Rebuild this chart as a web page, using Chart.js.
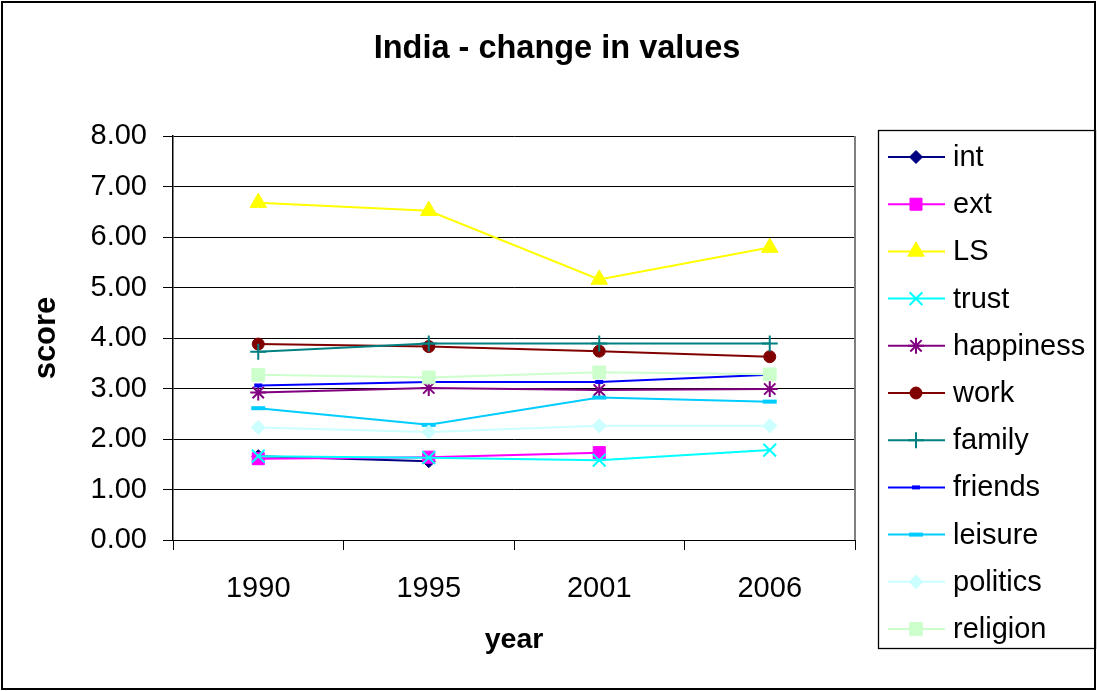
<!DOCTYPE html>
<html>
<head>
<meta charset="utf-8">
<script src="https://cdn.jsdelivr.net/npm/chart.js@4/dist/chart.umd.min.js"></script>
<style>
  html, body { margin: 0; padding: 0; background: #fff; }
  #wrap { width: 1097px; height: 691px; }
</style>
</head>
<body>
<div id="wrap"><canvas id="c" width="1097" height="691"></canvas></div>
<script>
// Survey years on the category axis
const years = ['1990', '1995', '2001', '2006'];

// Mean scores per value dimension
const intScores       = [1.66, 1.56, null, null];
const extScores       = [1.61, 1.64, 1.73, null];
const lsScores        = [6.68, 6.52, 5.16, 5.79];
const trustScores     = [1.66, 1.63, 1.58, 1.78];
const happinessScores = [2.92, 3.01, 2.97, 2.99];
const workScores      = [3.88, 3.83, 3.74, 3.63];
const familyScores    = [3.73, 3.89, 3.89, 3.89];
const friendsScores   = [3.06, 3.13, 3.13, 3.27];
const leisureScores   = [2.61, 2.28, 2.82, 2.74];
const politicsScores  = [2.23, 2.14, 2.26, 2.26];
const religionScores  = [3.27, 3.22, 3.32, 3.28];

// Score axis ticks
const scoreTicks = [0, 1, 2, 3, 4, 5, 6, 7, 8];

const TITLE = 'India - change in values';
const FONT = "'Liberation Sans', Arial, sans-serif";

function series(label, data, color, style, radius, opts) {
  opts = opts || {};
  return {
    label: label,
    data: data,
    borderColor: color,
    backgroundColor: color,
    borderWidth: 2,
    pointStyle: style,
    pointRadius: radius,
    pointHoverRadius: radius,
    pointBackgroundColor: opts.fill || color,
    pointBorderColor: opts.stroke || color,
    pointBorderWidth: opts.pbw || 1,
    tension: 0,
    spanGaps: false
  };
}

const datasets = [
  series('int', intScores, '#000080', 'rectRot', 6.5),
  series('ext', extScores, '#FF00FF', 'rect', 8.5),
  series('LS', lsScores, '#FFFF00', 'triangle', 9.5),
  series('trust', trustScores, '#00FFFF', 'crossRot', 9, { pbw: 2 }),
  series('happiness', happinessScores, '#800080', 'star', 8, { pbw: 2 }),
  series('work', workScores, '#800000', 'circle', 6),
  series('family', familyScores, '#008080', 'cross', 8, { pbw: 2 }),
  series('friends', friendsScores, '#0000FF', 'line', 4, { pbw: 4 }),
  series('leisure', leisureScores, '#00CCFF', 'line', 7, { pbw: 4 }),
  series('politics', politicsScores, '#CCFFFF', 'rectRot', 7),
  series('religion', religionScores, '#CCFFCC', 'rect', 9)
];
// later series sit on top of earlier ones
datasets.forEach((d, i) => { d.order = datasets.length - i; });

// white page, title, outer frame and the grey right edge of the plot area
const framePlugin = {
  id: 'frame',
  beforeDraw(chart) {
    const ctx = chart.ctx;
    ctx.save();
    ctx.fillStyle = '#fff';
    ctx.fillRect(0, 0, chart.width, chart.height);
    ctx.restore();
  },
  afterDraw(chart) {
    const ctx = chart.ctx;
    const a = chart.chartArea;
    ctx.save();
    ctx.fillStyle = '#000';
    ctx.font = 'bold 32.5px ' + FONT;
    ctx.textAlign = 'center';
    ctx.textBaseline = 'middle';
    ctx.fillText(TITLE, 557, 49);

    ctx.strokeStyle = '#808080';
    ctx.lineWidth = 2;
    ctx.beginPath();
    ctx.moveTo(a.right, a.top);
    ctx.lineTo(a.right, a.bottom);
    ctx.stroke();
    ctx.strokeStyle = '#000';
    ctx.lineWidth = 2;
    ctx.strokeRect(2, 2, chart.width - 4, chart.height - 4);
    ctx.restore();
  }
};

// boxed legend at the right, each entry with a line sample and its marker
const boxLegend = {
  id: 'boxLegend',
  afterDraw(chart) {
    const ctx = chart.ctx;
    const box = { x: 878.5, y: 130.5, w: 217, h: 518 };
    const first = 157, step = 47.2;
    ctx.save();
    ctx.strokeStyle = '#000';
    ctx.lineWidth = 1.3;
    ctx.strokeRect(box.x, box.y, box.w, box.h);
    chart.data.datasets.forEach((ds, i) => {
      const y = first + i * step;
      ctx.strokeStyle = ds.borderColor;
      ctx.lineWidth = 2;
      ctx.beginPath();
      ctx.moveTo(888, y);
      ctx.lineTo(945, y);
      ctx.stroke();
      ctx.fillStyle = ds.pointBackgroundColor;
      ctx.strokeStyle = ds.pointBorderColor;
      ctx.lineWidth = ds.pointBorderWidth;
      Chart.helpers.drawPoint(ctx, {
        pointStyle: ds.pointStyle,
        radius: ds.pointRadius,
        rotation: 0,
        borderWidth: ds.pointBorderWidth
      }, 916, y);
      ctx.fillStyle = '#000';
      ctx.font = '29px ' + FONT;
      ctx.textBaseline = 'middle';
      ctx.textAlign = 'left';
      ctx.fillText(ds.label, 953, y + 1);
    });
    ctx.restore();
  }
};

new Chart(document.getElementById('c'), {
  type: 'line',
  data: { labels: years, datasets: datasets },
  plugins: [framePlugin, boxLegend],
  options: {
    responsive: false,
    animation: false,
    devicePixelRatio: 1,
    layout: { padding: { left: 0, top: 136, right: 242, bottom: 0 } },
    plugins: {
      legend: { display: false },
      tooltip: { enabled: false },
      title: { display: false }
    },
    scales: {
      x: {
        type: 'category',
        offset: true,
        grid: {
          offset: true,
          drawOnChartArea: false,
          drawTicks: true,
          tickLength: 10,
          color: '#000',
          lineWidth: 1
        },
        border: { display: true, color: '#000', width: 1 },
        ticks: {
          color: '#000',
          padding: 22,
          font: { family: FONT, size: 29 }
        },
        title: {
          display: true,
          text: 'year',
          color: '#000',
          font: { family: FONT, size: 28.5, weight: 'bold', lineHeight: 1.2 },
          padding: { top: 0, bottom: 34 }
        },
        afterFit(scale) { scale.height = 151; }
      },
      y: {
        min: 0,
        max: 8,
        afterBuildTicks(scale) { scale.ticks = scoreTicks.map(v => ({ value: v })); },
        grid: {
          color: '#000',
          lineWidth: 1,
          drawTicks: true,
          tickLength: 10
        },
        border: { display: true, color: '#000', width: 1.5 },
        ticks: {
          color: '#000',
          padding: 16,
          font: { family: FONT, size: 29 },
          callback: v => Number(v).toFixed(2)
        },
        title: {
          display: true,
          text: 'score',
          color: '#000',
          font: { family: FONT, size: 31, weight: 'bold', lineHeight: 1.2 },
          padding: { top: 28, bottom: 0 }
        },
        afterFit(scale) { scale.width = 173; }
      }
    }
  }
});
</script>
</body>
</html>
